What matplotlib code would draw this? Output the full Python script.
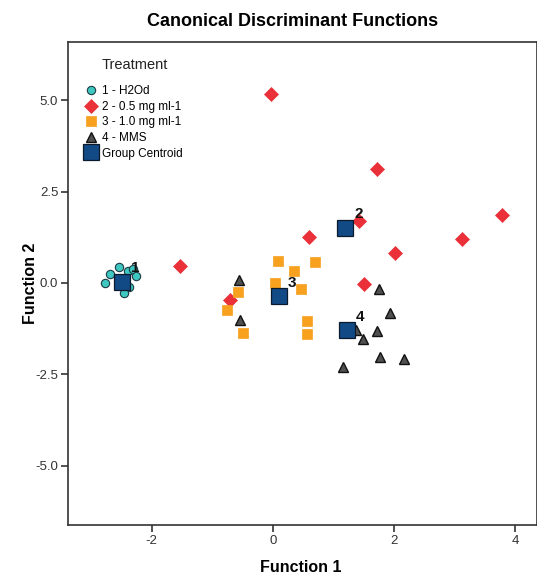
import matplotlib
matplotlib.use('Agg')
import matplotlib.pyplot as plt

plt.rcParams['font.family'] = ['Liberation Sans', 'DejaVu Sans']
plt.rcParams['axes.unicode_minus'] = False

# discriminant scores (Function 1, Function 2)
h2od_x = [-2.77, -2.68, -2.54, -2.39, -2.30, -2.25, -2.37, -2.45]
h2od_y = [-0.01, 0.24, 0.43, 0.34, 0.38, 0.19, -0.10, -0.27]

low_x = [-0.03, -1.53, -0.71, 1.73, 1.42, 0.60, 2.02, 3.12, 3.79, 1.50]
low_y = [5.17, 0.47, -0.47, 3.11, 1.71, 1.27, 0.81, 1.20, 1.85, -0.04]

high_x = [0.09, 0.70, 0.35, 0.04, 0.46, -0.57, -0.75, -0.49, 0.57, 0.56]
high_y = [0.61, 0.58, 0.33, 0.01, -0.17, -0.24, -0.74, -1.36, -1.04, -1.41]

mms_x = [-0.55, -0.54, 1.76, 1.93, 1.38, 1.72, 1.49, 1.77, 2.16, 1.16]
mms_y = [0.08, -1.01, -0.16, -0.81, -1.29, -1.31, -1.54, -2.02, -2.09, -2.31]

centroid_x = [-2.49, 1.20, 0.10, 1.22]
centroid_y = [0.04, 1.52, -0.35, -1.29]
centroid_labels = ['1', '2', '3', '4']

group_labels = ['1 - H2Od', '2 - 0.5 mg ml-1', '3 - 1.0 mg ml-1', '4 - MMS']

fig = plt.figure(figsize=(5.37, 5.77), dpi=100)
ax = fig.add_axes([0.1266, 0.0901, 0.873, 0.837])

ax.plot(h2od_x, h2od_y, 'o', ms=6, mfc='#3ec6c0', mec='#1d3c44', mew=0.8,
        ls='none', label=group_labels[0])
ax.plot(low_x, low_y, 'D', ms=7.5, mfc='#ea3038', mec='#ea3038', mew=0.5,
        ls='none', label=group_labels[1])
ax.plot(high_x, high_y, 's', ms=7.5, mfc='#f7a11e', mec='#f7a11e', mew=0.5,
        ls='none', label=group_labels[2])
ax.plot(mms_x, mms_y, '^', ms=7, mfc='#505050', mec='#111111', mew=1.0,
        ls='none', label=group_labels[3])
ax.plot(centroid_x, centroid_y, 's', ms=11, mfc='#124a86', mec='#0b1a2c', mew=0.9,
        ls='none', label='Group Centroid')

for cx, cy, lab in zip(centroid_x, centroid_y, centroid_labels):
    ax.annotate(lab, (cx, cy), xytext=(9.5, 9.5), textcoords='offset points',
                ha='center', va='center',
                fontsize=11, fontweight='bold', color='#111111')

ax.set_xlim(-3.38, 4.36)
ax.set_ylim(-6.63, 6.6)
ax.set_xticks([-2, 0, 2, 4])
ax.set_yticks([-5, -2.5, 0, 2.5, 5])
ax.set_yticklabels(['-5.0', '-2.5', '0.0', '2.5', '5.0'])
ax.tick_params(direction='out', length=5, width=1.2, color='#333333',
               labelsize=9.5, labelcolor='#333333', pad=2)
for sp in ax.spines.values():
    sp.set_color('#333333')
    sp.set_linewidth(1.2)

fig.text(0.56, 1 - 567 / 577, 'Function 1', ha='center', va='center',
         fontsize=11.5, fontweight='bold')
fig.text(0.056, 1 - 283 / 577, 'Function 2', ha='center', va='center',
         rotation=90, fontsize=11.5, fontweight='bold')

fig.text(0.545, 0.963, 'Canonical Discriminant Functions', ha='center', va='center',
         fontsize=13, fontweight='bold')

# legend title sits over the labels, not over the markers
fig.text(102 / 537, 1 - 65 / 577, 'Treatment', ha='left', va='center',
         fontsize=10.5, color='#222222')

leg = ax.legend(loc='upper left', bbox_to_anchor=(0.02, 0.925), frameon=False,
                fontsize=8.5, handletextpad=0.4, labelspacing=0.3,
                handlelength=1.1, borderaxespad=0.2)

fig.savefig('out.png', dpi=100)
